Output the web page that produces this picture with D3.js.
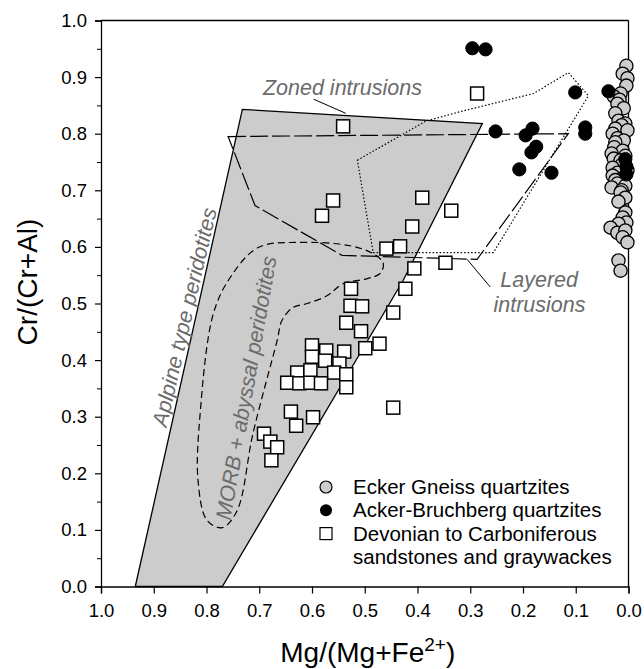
<!DOCTYPE html>
<html><head><meta charset="utf-8">
<script src="https://cdn.jsdelivr.net/npm/d3@7"></script>
<style>body{margin:0;background:#fff} svg{display:block}</style>
</head><body>
<svg id="chart" width="644" height="669"></svg>
<script>
// ---------- data ----------
const xTickValues = [1.0,0.9,0.8,0.7,0.6,0.5,0.4,0.3,0.2,0.1,0.0];
const yTickValues = [0.0,0.1,0.2,0.3,0.4,0.5,0.6,0.7,0.8,0.9,1.0];
const yMinorTicks = [0.05,0.15,0.25,0.35,0.45,0.55,0.65,0.75,0.85,0.95];

// Ecker Gneiss quartzites [Mg/(Mg+Fe2+), Cr/(Cr+Al)]
const eckerGneiss = [
  [0.004,0.920],[0.011,0.906],[0.002,0.898],[0.004,0.885],[0.015,0.871],[0.028,0.866],
  [0.017,0.860],[0.021,0.853],[0.009,0.845],[0.025,0.836],[0.019,0.823],[0.006,0.818],
  [0.013,0.815],[0.025,0.809],[0.002,0.806],[0.030,0.800],[0.021,0.792],[0.009,0.788],
  [0.025,0.785],[0.027,0.776],[0.011,0.770],[0.032,0.765],[0.028,0.756],[0.006,0.761],
  [0.015,0.753],[0.013,0.745],[0.030,0.740],[0.021,0.731],[0.002,0.735],[0.009,0.723],
  [0.030,0.726],[0.025,0.718],[0.021,0.712],[0.006,0.708],[0.032,0.705],[0.013,0.700],
  [0.015,0.696],[0.006,0.687],[0.019,0.680],[0.006,0.661],[0.011,0.652],[0.004,0.643],
  [0.019,0.641],[0.034,0.634],[0.021,0.625],[0.006,0.629],[0.011,0.617],[0.002,0.608],
  [0.019,0.576],[0.015,0.558]
];
// Acker-Bruchberg quartzites
const ackerBruchberg = [
  [0.296,0.951],[0.271,0.949],[0.101,0.873],[0.038,0.875],[0.252,0.804],
  [0.195,0.797],[0.182,0.809],[0.184,0.767],[0.175,0.777],[0.207,0.737],
  [0.146,0.731],[0.082,0.811],[0.082,0.800],[0.006,0.755],[0.004,0.742],[0.004,0.728]
];
// Devonian to Carboniferous sandstones and graywackes
const devonian = [
  [0.287,0.871],[0.541,0.813],[0.560,0.682],[0.581,0.655],[0.391,0.687],[0.336,0.664],
  [0.410,0.636],[0.459,0.597],[0.433,0.601],[0.347,0.572],[0.406,0.562],[0.526,0.526],
  [0.423,0.526],[0.527,0.496],[0.505,0.495],[0.446,0.484],[0.535,0.466],[0.507,0.451],
  [0.499,0.421],[0.472,0.429],[0.600,0.426],[0.573,0.417],[0.539,0.415],[0.600,0.406],
  [0.575,0.399],[0.548,0.394],[0.628,0.378],[0.603,0.382],[0.558,0.378],[0.535,0.375],
  [0.647,0.360],[0.624,0.359],[0.603,0.360],[0.583,0.359],[0.535,0.352],[0.446,0.316],
  [0.640,0.309],[0.598,0.299],[0.630,0.284],[0.691,0.270],[0.679,0.256],[0.666,0.246],
  [0.677,0.223]
];
// Fields
const alpineField = [[0.935,0.0],[0.732,0.843],[0.277,0.818],[0.427,0.541],[0.770,0.0]];
const zonedField = [[0.514,0.753],[0.385,0.822],[0.319,0.839],[0.180,0.871],[0.114,0.908],
  [0.076,0.867],[0.256,0.590],[0.484,0.590]];
const layeredField = [[0.759,0.795],[0.114,0.800],[0.287,0.578],[0.543,0.585],[0.708,0.673]];
const morbField = [[0.702,0.599],[0.622,0.608],[0.528,0.602],[0.484,0.588],[0.465,0.571],
  [0.471,0.553],[0.495,0.544],[0.541,0.535],[0.571,0.514],[0.609,0.500],[0.636,0.493],
  [0.657,0.470],[0.666,0.435],[0.712,0.270],[0.742,0.134],[0.770,0.104],[0.799,0.117],
  [0.816,0.187],[0.812,0.306],[0.787,0.482],[0.755,0.546]];
const zonedLeader = [[0.597,0.861],[0.536,0.836]];
const layeredLeader = [[0.306,0.578],[0.262,0.529]];

const legendLabels = ["Ecker Gneiss quartzites","Acker-Bruchberg quartzites",
  "Devonian to Carboniferous","sandstones and graywackes"];

// ---------- drawing ----------
const W = 644, H = 669;
const m = {left:101, right:15.5, top:20.5, bottom:82.5};
const svg = d3.select("#chart");
const x = d3.scaleLinear().domain([1,0]).range([m.left, W-m.right]);
const y = d3.scaleLinear().domain([0,1]).range([H-m.bottom, m.top]);
const FONT = "'Liberation Sans', Arial, Helvetica, sans-serif";
const annotColor = "#6b6b6b";
const line = d3.line().x(d=>x(d[0])).y(d=>y(d[1]));

// Alpine field (gray)
svg.append("path").datum(alpineField)
  .attr("d", line.curve(d3.curveLinearClosed))
  .attr("fill","#cccccc").attr("stroke","#000").attr("stroke-width",1.3);

// MORB field (short dash)
svg.append("path").datum(morbField)
  .attr("d", d3.line().x(d=>x(d[0])).y(d=>y(d[1])).curve(d3.curveCatmullRomClosed.alpha(0.5)))
  .attr("fill","none").attr("stroke","#000").attr("stroke-width",1.2)
  .attr("stroke-dasharray","7,4");

// Layered field (long dash)
svg.append("path").datum(layeredField)
  .attr("d", d3.line().x(d=>x(d[0])).y(d=>y(d[1])).curve(d3.curveLinearClosed))
  .attr("fill","none").attr("stroke","#000").attr("stroke-width",1.2)
  .attr("stroke-dasharray","18,4");

// Zoned field (dotted)
svg.append("path").datum(zonedField)
  .attr("d", d3.line().x(d=>x(d[0])).y(d=>y(d[1])).curve(d3.curveLinearClosed))
  .attr("fill","none").attr("stroke","#000").attr("stroke-width",1.2)
  .attr("stroke-dasharray","1.5,2");

// leaders
[zonedLeader, layeredLeader].forEach(l=>{
  svg.append("path").datum(l)
    .attr("d", d3.line().x(d=>x(d[0])).y(d=>y(d[1])))
    .attr("fill","none").attr("stroke","#000").attr("stroke-width",1);
});

// Annotations
const AF = 21.5;
svg.append("text").attr("x", x(0.693)).attr("y", y(0.868))
  .attr("font-family",FONT).attr("font-style","italic").attr("font-size",AF)
  .attr("fill",annotColor).text("Zoned intrusions");
svg.append("text").attr("x", x(0.243)).attr("y", y(0.529))
  .attr("font-family",FONT).attr("font-style","italic").attr("font-size",AF)
  .attr("fill",annotColor).text("Layered");
svg.append("text").attr("x", x(0.256)).attr("y", y(0.485))
  .attr("font-family",FONT).attr("font-style","italic").attr("font-size",AF)
  .attr("fill",annotColor).text("intrusions");
svg.append("text")
  .attr("transform",`translate(${x(0.842)},${y(0.476)}) rotate(-77)`)
  .attr("text-anchor","middle").attr("dy","0.35em")
  .attr("font-family",FONT).attr("font-style","italic").attr("font-size",AF)
  .attr("fill",annotColor).text("Aplpine type peridotites");
svg.append("text")
  .attr("transform",`translate(${x(0.725)},${y(0.351)}) rotate(-80)`)
  .attr("text-anchor","middle").attr("dy","0.35em")
  .attr("font-family",FONT).attr("font-style","italic").attr("font-size",AF)
  .attr("fill",annotColor).text("MORB + abyssal peridotites");

// Frame (top & right)
svg.append("line").attr("x1",x(1)).attr("x2",x(0)).attr("y1",y(1)).attr("y2",y(1))
  .attr("stroke","#000").attr("stroke-width",1.3);
svg.append("line").attr("x1",x(0)).attr("x2",x(0)).attr("y1",y(1)).attr("y2",y(0))
  .attr("stroke","#000").attr("stroke-width",1.3);

// Axes
const xAxis = d3.axisBottom(x).tickValues(xTickValues).tickFormat(d3.format(".1f"))
  .tickSize(7).tickPadding(10);
const gx = svg.append("g").attr("transform",`translate(0,${y(0)})`).call(xAxis);
const yAxis = d3.axisLeft(y).tickValues(yTickValues).tickFormat(d3.format(".1f"))
  .tickSize(6).tickPadding(8);
const gy = svg.append("g").attr("transform",`translate(${x(1)},0)`).call(yAxis);
svg.append("g").attr("transform",`translate(${x(1)},0)`)
  .call(d3.axisLeft(y).tickValues(yMinorTicks).tickSize(4).tickFormat(""))
  .call(g=>g.select(".domain").remove());
[gx,gy].forEach(g=>{
  g.select(".domain").attr("stroke-width",1.3);
  g.selectAll(".tick line").attr("stroke-width",1.2);
  g.selectAll("text").attr("font-family",FONT).attr("font-size",18.5).attr("fill","#000");
});

// Axis titles
const xt = svg.append("text").attr("x",(x(1)+x(0))/2 + 3).attr("y",662)
  .attr("text-anchor","middle").attr("font-family",FONT).attr("font-size",28);
xt.append("tspan").text("Mg/(Mg+Fe");
xt.append("tspan").attr("dy",-11).attr("font-size",19).text("2+");
xt.append("tspan").attr("dy",11).text(")");
svg.append("text").attr("transform",`translate(37,282) rotate(-90)`)
  .attr("text-anchor","middle").attr("font-family",FONT).attr("font-size",28)
  .text("Cr/(Cr+Al)");

// Points
const R = 6.6, S = 13;
svg.append("g").selectAll("rect").data(devonian).join("rect")
  .attr("x",d=>x(d[0])-S/2).attr("y",d=>y(d[1])-S/2).attr("width",S).attr("height",S)
  .attr("fill","#fff").attr("stroke","#000").attr("stroke-width",1.5);
svg.append("g").selectAll("circle").data(eckerGneiss).join("circle")
  .attr("cx",d=>x(d[0])).attr("cy",d=>y(d[1])).attr("r",R)
  .attr("fill","#cccccc").attr("stroke","#000").attr("stroke-width",1.3);
svg.append("g").selectAll("circle").data(ackerBruchberg).join("circle")
  .attr("cx",d=>x(d[0])).attr("cy",d=>y(d[1])).attr("r",R)
  .attr("fill","#000").attr("stroke","#000").attr("stroke-width",1);

// Legend
const lg = svg.append("g").attr("font-family",FONT).attr("font-size",20.5);
const lx = 326, ly0 = 487, ldy = 23.3;
lg.append("circle").attr("cx",lx).attr("cy",ly0).attr("r",6).attr("fill","#cccccc").attr("stroke","#000").attr("stroke-width",1.2);
lg.append("circle").attr("cx",lx).attr("cy",ly0+ldy).attr("r",6).attr("fill","#000");
lg.append("rect").attr("x",lx-6).attr("y",ly0+2*ldy-6).attr("width",12).attr("height",12)
  .attr("fill","#fff").attr("stroke","#000").attr("stroke-width",1.2);
legendLabels.forEach((t,i)=>{
  lg.append("text").attr("x",353).attr("y",ly0+i*ldy).attr("dy","0.35em").text(t);
});
</script>
</body></html>
